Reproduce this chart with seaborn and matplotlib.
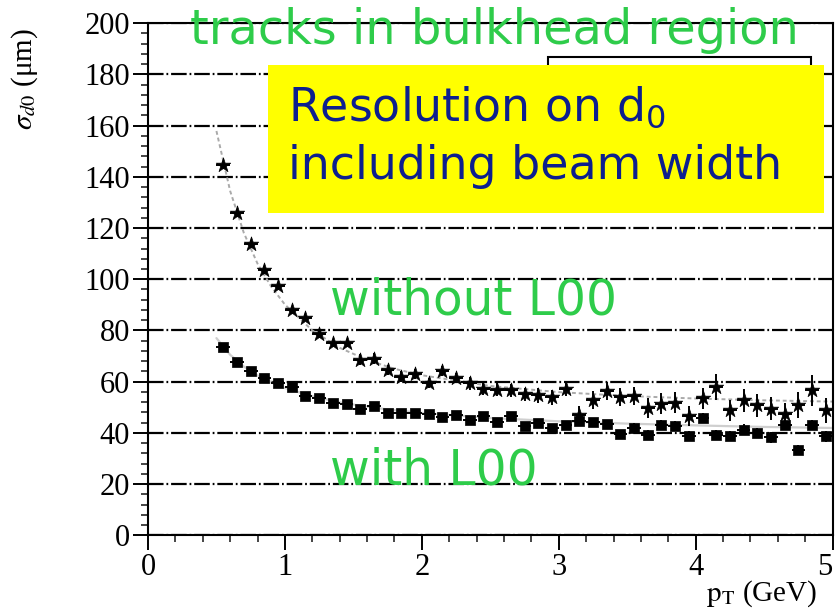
import matplotlib
matplotlib.use("Agg")
import matplotlib.pyplot as plt
import seaborn as sns
import pandas as pd
from matplotlib.patches import Rectangle

# ---------------- data ----------------
pt_bins = [0.55, 0.65, 0.75, 0.85, 0.95, 1.05, 1.15, 1.25, 1.35, 1.45,
           1.55, 1.65, 1.75, 1.85, 1.95, 2.05, 2.15, 2.25, 2.35, 2.45,
           2.55, 2.65, 2.75, 2.85, 2.95, 3.05, 3.15, 3.25, 3.35, 3.45,
           3.55, 3.65, 3.75, 3.85, 3.95, 4.05, 4.15, 4.25, 4.35, 4.45,
           4.55, 4.65, 4.75, 4.85, 4.95]
without_l00 = [144.5, 125.8, 113.7, 103.5, 97.3, 88.0, 85.0, 78.7, 75.0, 75.0,
               68.6, 69.0, 64.5, 62.0, 63.0, 59.4, 64.3, 61.3, 59.4, 57.3,
               56.9, 56.6, 55.0, 54.7, 53.9, 57.3, 46.9, 52.7, 56.3, 53.9,
               54.3, 49.6, 51.4, 51.8, 46.5, 53.5, 57.8, 48.8, 52.7, 50.8,
               49.4, 47.3, 50.8, 56.6, 48.8]
without_err = [1.5, 1.5, 1.5, 1.5, 1.5, 1.5, 1.5, 1.5, 1.5, 1.5,
               2.0, 2.0, 2.0, 2.0, 2.0, 2.0, 2.0, 2.0, 2.5, 2.5,
               2.5, 2.5, 2.5, 3.0, 3.0, 3.0, 3.5, 3.5, 3.5, 3.5,
               3.5, 4.0, 4.0, 4.0, 4.0, 4.0, 5.0, 4.0, 4.5, 4.5,
               4.5, 4.5, 5.0, 6.0, 5.0]
with_l00 = [73.4, 67.8, 64.0, 61.3, 59.6, 57.8, 54.3, 53.7, 51.6, 51.4,
            49.4, 50.6, 47.8, 47.8, 47.8, 47.5, 46.3, 47.1, 44.9, 46.5,
            44.1, 46.5, 42.8, 43.9, 42.0, 43.0, 44.5, 44.1, 43.6, 39.5,
            42.0, 39.2, 43.2, 42.7, 38.7, 45.7, 39.3, 38.8, 41.3, 39.9,
            38.2, 43.0, 33.2, 43.0, 38.6]
with_err = [1.0] * 15 + [1.5] * 15 + [2.0] * 15
bin_halfwidth = 0.05

# fitted curves
fit_pt = [0.5, 0.6, 0.7, 0.8, 0.9, 1.0, 1.2, 1.4, 1.6, 1.8, 2.0, 2.5, 3.0, 3.5, 4.0, 4.5, 5.0]
fit_without = [157.9, 134.5, 118.1, 106.1, 97.1, 90.1, 80.0, 73.2, 68.5, 65.0, 62.5,
               58.3, 55.9, 54.4, 53.4, 52.7, 52.2]
fit_with = [77.0, 70.5, 65.9, 62.4, 59.7, 57.5, 54.3, 51.9, 50.2, 48.8, 47.8,
            45.8, 44.5, 43.6, 42.9, 42.3, 41.9]

x_ticks = [0, 1, 2, 3, 4, 5]
y_ticks = [0, 20, 40, 60, 80, 100, 120, 140, 160, 180, 200]

title_text = "tracks in bulkhead region"
label_without = "without L00"
label_with = "with L00"
box_line1 = "Resolution on d$_0$"
box_line2 = "including beam width"
# -------------------------------------------------------------

sns.set_theme(style="white")
plt.rcParams["mathtext.fontset"] = "stix"
plt.rcParams["font.family"] = ["Liberation Serif", "DejaVu Serif"]

df_pts = pd.DataFrame({"pt": pt_bins, "without": without_l00, "with": with_l00})
df_fit = pd.DataFrame({"pt": fit_pt, "without": fit_without, "with": fit_with})

fig = plt.figure(figsize=(8.36, 6.11), dpi=100)
ax = fig.add_axes([0.177, 0.124, 0.819, 0.838])

# grid (dash-dot)
ax.set_yticks(y_ticks)
ax.yaxis.grid(True, color="black", linewidth=1.6, linestyle=(0, (7, 1.3, 0.8, 1.3)), zorder=0)
ax.xaxis.grid(False)
ax.set_axisbelow(True)

# fit curves
sns.lineplot(data=df_fit, x="pt", y="without", ax=ax, color="#aaaaaa", linewidth=1.4,
             linestyle=(0, (2, 1.5)), zorder=2)
sns.lineplot(data=df_fit, x="pt", y="with", ax=ax, color="#cfcfcf", linewidth=1.6, zorder=2)

# error bars
ax.errorbar(pt_bins, without_l00, yerr=without_err, xerr=bin_halfwidth, fmt="none",
            ecolor="black", elinewidth=1.4, capsize=0, zorder=3)
ax.errorbar(pt_bins, with_l00, yerr=with_err, xerr=bin_halfwidth, fmt="none",
            ecolor="black", elinewidth=1.4, capsize=0, zorder=3)

# markers
sns.scatterplot(data=df_pts, x="pt", y="without", ax=ax, marker="*", s=120,
                color="black", edgecolor="black", linewidth=0.5, zorder=4)
sns.scatterplot(data=df_pts, x="pt", y="with", ax=ax, marker="s", s=60,
                color="black", edgecolor="black", linewidth=0.5, zorder=4)

ax.set_xlim(0, 5)
ax.set_ylim(0, 200)
ax.set_xticks(x_ticks)
ax.set_xticklabels([str(v) for v in x_ticks])
ax.set_yticklabels([str(v) for v in y_ticks])
ax.xaxis.set_minor_locator(matplotlib.ticker.MultipleLocator(0.2))
ax.yaxis.set_minor_locator(matplotlib.ticker.MultipleLocator(4))
ax.tick_params(axis="both", which="major", direction="out", length=11, width=1.4,
               labelsize=22, pad=2, colors="black", bottom=True, left=True)
ax.tick_params(axis="both", which="minor", direction="out", length=5, width=1.2,
               bottom=True, left=True)
ax.get_xticklabels()[-1].set_ha("right")
for sp in ax.spines.values():
    sp.set_visible(True)
    sp.set_color("black")
    sp.set_linewidth(1.5)

ax.set_xlabel("")
ax.set_ylabel("")
fig.text(0.03, 0.87, r"$\sigma_{d0}$ (μm)", rotation=90, fontsize=21,
         ha="center", va="center", color="black")
fig.text(0.978, 0.003, r"$\mathrm{p_T}$ (GeV)", fontsize=21, ha="right", va="bottom",
         color="black")

green = "#2ecc4a"
ax.text(0.061, 0.986, title_text, transform=ax.transAxes, fontsize=34.5, color=green,
        ha="left", va="center", family="DejaVu Sans", zorder=6)
ax.text(0.266, 0.459, label_without, transform=ax.transAxes, fontsize=35, color=green,
        ha="left", va="center", family="DejaVu Sans", zorder=6)
ax.text(0.266, 0.127, label_with, transform=ax.transAxes, fontsize=35, color=green,
        ha="left", va="center", family="DejaVu Sans", zorder=6)

# partially hidden legend frame and yellow box
ax.add_patch(Rectangle((0.584, 0.70), 0.385, 0.234, transform=ax.transAxes,
                       facecolor="white", edgecolor="black", linewidth=1.5, zorder=5))
ax.add_patch(Rectangle((0.175, 0.629), 0.813, 0.289, transform=ax.transAxes,
                       facecolor="#ffff00", edgecolor="none", zorder=6))
blue = "#0d1f8e"
ax.text(0.204, 0.835, box_line1, transform=ax.transAxes, fontsize=33, color=blue,
        ha="left", va="center", family="DejaVu Sans", math_fontfamily="dejavusans", zorder=7)
ax.text(0.204, 0.72, box_line2, transform=ax.transAxes, fontsize=33, color=blue,
        ha="left", va="center", family="DejaVu Sans", zorder=7)

fig.savefig("out.png", dpi=100)
